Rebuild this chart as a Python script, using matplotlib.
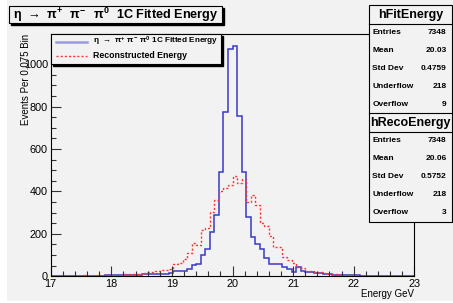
import numpy as np
import matplotlib.pyplot as plt
from matplotlib.patches import Rectangle
from matplotlib.lines import Line2D

plt.rcParams['font.family'] = ['Liberation Sans', 'DejaVu Sans']
plt.rcParams['mathtext.default'] = 'regular'

# histogram binning: 80 bins of 0.075 GeV between 17 and 23
n_bins = 80
x_lo = 17.0
x_hi = 23.0

# hFitEnergy (blue, 1C fitted)
fit_counts = [
    3, 2, 3, 2, 3, 2, 2, 3, 2, 2,
    3, 3, 4, 4, 5, 5, 6, 6, 7, 8,
    9, 10, 11, 11, 12, 13, 14, 25, 25, 25,
    33, 53, 56, 100, 128, 210, 289, 493, 777, 1072,
    1088, 756, 494, 281, 184, 152, 127, 85, 56, 56,
    56, 45, 34, 22, 42, 26, 22, 22, 17, 14,
    12, 10, 8, 6, 6, 8, 6, 4, 3, 2,
    2, 1, 2, 1, 1, 1, 0, 1, 1, 0]

# hRecoEnergy (red, reconstructed)
reco_counts = [
    3, 2, 2, 3, 2, 3, 2, 4, 3, 3,
    4, 3, 6, 5, 6, 8, 9, 10, 10, 12,
    14, 18, 22, 26, 30, 32, 34, 58, 62, 80,
    108, 156, 148, 218, 226, 305, 360, 400, 415, 430,
    473, 439, 457, 352, 383, 336, 250, 236, 192, 140,
    138, 92, 77, 61, 42, 38, 26, 26, 19, 18,
    16, 12, 10, 7, 5, 4, 3, 3, 2, 2,
    3, 2, 2, 1, 2, 1, 2, 1, 1, 2]

fit_stats = [('Entries', '7348'), ('Mean', '20.03'), ('Std Dev', '0.4759'),
             ('Underflow', '218'), ('Overflow', '9')]
reco_stats = [('Entries', '7348'), ('Mean', '20.06'), ('Std Dev', '0.5752'),
              ('Underflow', '218'), ('Overflow', '3')]

title = r'$\eta\ \rightarrow\ \pi^{+}\ \ \pi^{-}\ \ \pi^{0}\ $ 1C Fitted Energy'
fit_label = r'$\eta\ \rightarrow\ \pi^{+}\ \pi^{-}\ \pi^{0}\ $1C Fitted Energy'
reco_label = 'Reconstructed Energy'

W, H = 453.0, 303.0
bg = '#f2f2f2'
blue = '#3a3ac8'
red = '#ff3333'


def fx(x):
    return x / W


def fy(y):
    return 1 - y / H


fig = plt.figure(figsize=(W / 100, H / 100), dpi=100)
fig.patch.set_facecolor('white')
fig.patches.append(Rectangle((fx(7), fy(301)), 1, 1, transform=fig.transFigure,
                             facecolor=bg, edgecolor='none', zorder=-10))

ax = fig.add_axes([fx(50.7), fy(276.3), (414.3 - 50.7) / W, (276.3 - 33.7) / H])
ax.set_facecolor(bg)

edges = np.linspace(x_lo, x_hi, n_bins + 1)
ax.stairs(fit_counts, edges, color=blue, lw=1.1)
ax.stairs(reco_counts, edges, color=red, lw=1.0, linestyle=(0, (1.5, 1.5)))

ax.set_xlim(x_lo, x_hi)
ax.set_ylim(0, 1144)
ax.set_xticks(np.arange(17, 24, 1))
ax.set_xticks(np.arange(17, 23.01, 0.2), minor=True)
ax.set_yticks(np.arange(0, 1001, 200))
ax.set_yticks(np.arange(0, 1101, 50), minor=True)
ax.tick_params(which='both', direction='in', top=False, right=False,
               labelsize=7.8, width=0.8, color='#333333')
ax.tick_params(which='major', length=7, pad=2)
ax.tick_params(which='minor', length=3.5)
for sp in ax.spines.values():
    sp.set_linewidth(0.8)

ax.set_ylabel('Events Per 0.075 Bin', fontsize=7, loc='top')
ax.yaxis.set_label_coords(-0.055, 1.0)
ax.set_xlabel('Energy GeV', fontsize=7, loc='right', labelpad=0)


def box(x0, y0, x1, y1, shadow=0):
    if shadow:
        fig.patches.append(Rectangle((fx(x0 + shadow), fy(y1 + shadow)), (x1 - x0) / W,
                                     (y1 - y0) / H, transform=fig.transFigure,
                                     facecolor='black', edgecolor='black', zorder=4))
    fig.patches.append(Rectangle((fx(x0), fy(y1)), (x1 - x0) / W, (y1 - y0) / H,
                                 transform=fig.transFigure, facecolor=bg,
                                 edgecolor='black', lw=0.8, zorder=5))


# title box
box(9, 6, 222, 23, shadow=2)
fig.text(fx(115.5), fy(14.5), title, ha='center', va='center', fontsize=9.1,
         fontweight='bold', zorder=6)

# legend
box(50.7, 33.7, 221, 64, shadow=2)
fig.lines.append(Line2D([fx(56), fx(87)], [fy(41.5), fy(41.5)], transform=fig.transFigure,
                        color='#9a9ae0', lw=1.8, zorder=6))
fig.lines.append(Line2D([fx(56), fx(87)], [fy(56), fy(56)], transform=fig.transFigure,
                        color=red, lw=1.0, linestyle=(0, (1.5, 1.5)), zorder=6))
fig.text(fx(93), fy(41.5), fit_label, ha='left', va='center', fontsize=5.9,
         fontweight='bold', zorder=6)
fig.text(fx(93), fy(56), reco_label, ha='left', va='center', fontsize=6.3,
         fontweight='bold', zorder=6)

# stats boxes
for (name, stats, top) in [('hFitEnergy', fit_stats, 5), ('hRecoEnergy', reco_stats, 113)]:
    box(369, top, 452, top + 108.5)
    fig.lines.append(Line2D([fx(369), fx(452)], [fy(top + 19), fy(top + 19)],
                            transform=fig.transFigure, color='black', lw=0.8, zorder=6))
    fig.text(fx(410.5), fy(top + 10), name, ha='center', va='center', fontsize=9,
             fontweight='bold', zorder=6)
    for i, (k, v) in enumerate(stats):
        yy = top + 27.5 + i * 18.1
        fig.text(fx(372.5), fy(yy), k, ha='left', va='center', fontsize=6,
                 fontweight='bold', zorder=6)
        fig.text(fx(446.5), fy(yy), v, ha='right', va='center', fontsize=6,
                 fontweight='bold', zorder=6)

fig.savefig('out.png', dpi=100, facecolor=fig.get_facecolor())
